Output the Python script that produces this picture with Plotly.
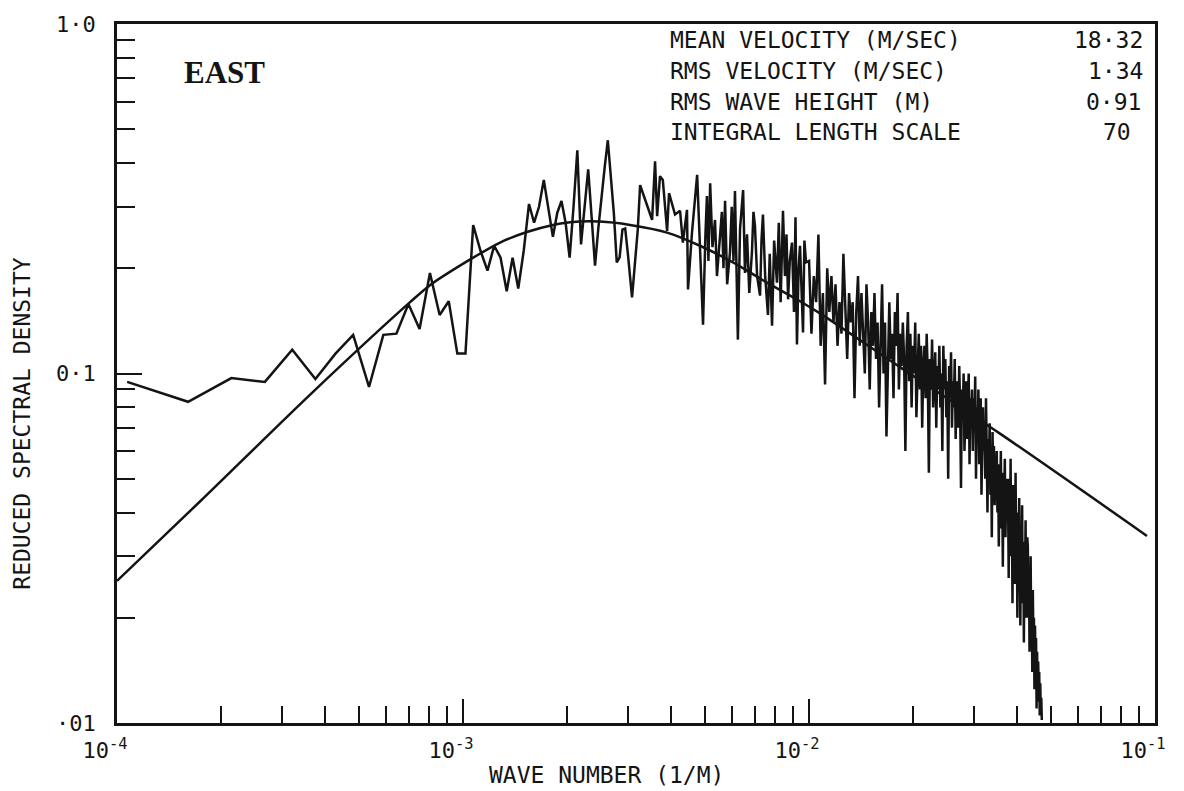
import numpy as np
import plotly.graph_objects as go

# ---------------- data ----------------
DK = 5.35e-5  # wavenumber resolution of the spectrum (1/m)

# harmonics 2..56, every harmonic
LOW_HARMONIC_START = 2
low_density = [
    0.0946, 0.083, 0.097, 0.0946, 0.117, 0.0965, 0.114, 0.129, 0.0915, 0.129,
    0.130, 0.158, 0.134, 0.194, 0.147, 0.161, 0.114, 0.114, 0.266, 0.2245,
    0.197, 0.232, 0.2145, 0.172, 0.2145, 0.175, 0.2245, 0.3055, 0.27, 0.30,
    0.358, 0.30, 0.246, 0.288, 0.3115, 0.27, 0.2145, 0.30, 0.435, 0.234,
    0.30, 0.384, 0.28, 0.2035, 0.26, 0.326, 0.39, 0.465, 0.36, 0.288,
    0.208, 0.215, 0.258, 0.26, 0.22,
]

# 3e-3 .. 1e-2
mid_wavenumber = [
    3.08e-3, 3.20e-3, 3.25e-3, 3.40e-3, 3.52e-3, 3.59e-3, 3.64e-3, 3.71e-3, 3.78e-3, 3.89e-3,
    3.94e-3, 4.10e-3, 4.24e-3, 4.32e-3, 4.44e-3, 4.47e-3, 4.59e-3, 4.75e-3,
    4.94e-3, 5.02e-3, 5.07e-3, 5.12e-3, 5.18e-3, 5.26e-3, 5.35e-3, 5.42e-3, 5.53e-3, 5.60e-3,
    5.66e-3, 5.72e-3, 5.80e-3, 5.91e-3, 5.98e-3, 6.05e-3, 6.11e-3, 6.17e-3, 6.23e-3, 6.32e-3,
    6.45e-3, 6.53e-3, 6.62e-3, 6.72e-3, 6.84e-3, 6.91e-3, 6.98e-3, 7.08e-3, 7.22e-3, 7.29e-3,
    7.36e-3, 7.47e-3, 7.61e-3, 7.70e-3, 7.82e-3, 7.93e-3, 8.08e-3, 8.18e-3, 8.28e-3, 8.41e-3,
    8.52e-3, 8.61e-3, 8.70e-3, 8.80e-3, 8.93e-3, 9.05e-3, 9.14e-3, 9.23e-3, 9.33e-3, 9.42e-3,
    9.52e-3, 9.61e-3, 9.70e-3, 9.80e-3,
]
mid_density = [
    0.165, 0.258, 0.346, 0.304, 0.275, 0.405, 0.282, 0.367, 0.358, 0.256,
    0.328, 0.285, 0.292, 0.237, 0.294, 0.174, 0.253, 0.370,
    0.138, 0.25, 0.322, 0.21, 0.350, 0.23, 0.275, 0.19, 0.241, 0.29,
    0.20, 0.312, 0.18, 0.222, 0.30, 0.21, 0.333, 0.20, 0.125, 0.26,
    0.335, 0.194, 0.25, 0.17, 0.222, 0.29, 0.264, 0.19, 0.167, 0.24,
    0.285, 0.19, 0.147, 0.22, 0.137, 0.24, 0.182, 0.27, 0.16, 0.292,
    0.19, 0.25, 0.163, 0.21, 0.237, 0.15, 0.28, 0.121, 0.20, 0.232,
    0.16, 0.131, 0.24, 0.208,
]

# dense band: every 3rd harmonic from 187 to 880
HIGH_HARMONIC_START = 187
HIGH_HARMONIC_STEP = 3
high_density = [
    # ~1.0e-2 .. 1.3e-2
    0.21, 0.13, 0.19, 0.16, 0.25, 0.12, 0.17, 0.093, 0.20, 0.15, 0.19,
    0.14, 0.18, 0.12, 0.16, 0.13, 0.22, 0.15, 0.11, 0.17, 0.14,
    # ~1.3e-2 .. 1.6e-2
    0.16, 0.085, 0.15, 0.19, 0.12, 0.17, 0.13, 0.10, 0.18, 0.14, 0.09,
    0.15, 0.12, 0.17, 0.11, 0.14, 0.08,
    # ~1.6e-2 .. 1.9e-2
    0.13, 0.18, 0.10, 0.14, 0.066, 0.12, 0.16, 0.11, 0.13, 0.085, 0.15,
    0.12, 0.17, 0.09, 0.13, 0.105, 0.14,
    # ~1.9e-2 .. 2.1e-2
    0.11, 0.06, 0.12, 0.15, 0.095, 0.13, 0.08, 0.12, 0.10, 0.14, 0.075,
    0.11, 0.13, 0.09, 0.12, 0.07, 0.105,
    # ~2.2e-2 .. 2.4e-2
    0.12, 0.085, 0.13, 0.10, 0.052, 0.11, 0.09, 0.125, 0.08, 0.10, 0.115,
    0.07, 0.105, 0.09, 0.12, 0.08,
    # ~2.4e-2 .. 2.7e-2
    0.10, 0.06, 0.12, 0.09, 0.11, 0.075, 0.095, 0.05, 0.105, 0.085, 0.115,
    0.07, 0.095, 0.08, 0.11, 0.065, 0.09,
    # ~2.7e-2 .. 2.9e-2
    0.095, 0.07, 0.105, 0.08, 0.047, 0.09, 0.075, 0.10, 0.06, 0.085, 0.095,
    0.065, 0.08, 0.10, 0.055, 0.085, 0.075,
    # ~3.0e-2 .. 3.2e-2
    0.09, 0.06, 0.085, 0.072, 0.098, 0.05, 0.08, 0.065, 0.09, 0.055, 0.075,
    0.085, 0.045, 0.07, 0.08, 0.06,
    # ~3.2e-2 .. 3.5e-2
    0.07, 0.05, 0.085, 0.06, 0.04, 0.065, 0.055, 0.072, 0.045, 0.06, 0.034,
    0.068, 0.05, 0.062, 0.042, 0.058, 0.052,
    # ~3.5e-2 .. 3.75e-2
    0.06, 0.04, 0.055, 0.032, 0.05, 0.045, 0.06, 0.036, 0.048, 0.028, 0.052,
    0.042, 0.057, 0.034, 0.046, 0.038, 0.05,
    # ~3.75e-2 .. 4.0e-2
    0.045, 0.026, 0.05, 0.035, 0.057, 0.03, 0.042, 0.022, 0.048, 0.036, 0.04,
    0.025, 0.052, 0.032, 0.038, 0.02,
    # ~4.0e-2 .. 4.3e-2
    0.04, 0.024, 0.044, 0.03, 0.019, 0.036, 0.027, 0.042, 0.022, 0.033, 0.017,
    0.03, 0.026, 0.038, 0.02, 0.028, 0.034,
    # ~4.3e-2 .. 4.55e-2
    0.032, 0.02, 0.028, 0.016, 0.025, 0.03, 0.018, 0.022, 0.014, 0.024, 0.017,
    0.02, 0.0125, 0.019, 0.015, 0.0175, 0.011,
    # ~4.55e-2 .. 4.7e-2
    0.016, 0.0115, 0.015, 0.0125, 0.014, 0.0105, 0.013, 0.0108, 0.0118, 0.0102,
]

# fitted model spectrum (smooth curve)
model_wavenumber = [1.0e-4, 1.74e-4, 3.61e-4, 7.03e-4, 8.03e-4, 1.07e-3, 1.28e-3, 1.53e-3,
                    1.82e-3, 2.04e-3, 2.49e-3, 3.04e-3, 3.89e-3, 4.84e-3, 6.03e-3, 7.56e-3,
                    9.42e-3, 1.076e-2, 1.832e-2, 3.565e-2, 9.48e-2]
model_density = [0.0255, 0.0431, 0.0869, 0.160, 0.179, 0.2145, 0.237, 0.254,
                 0.266, 0.271, 0.272, 0.266, 0.253, 0.232, 0.208, 0.182,
                 0.161, 0.1486, 0.1043, 0.0673, 0.0343]

x_tick_vals = [1e-4, 1e-3, 1e-2, 1e-1]
x_tick_text = ["10<sup>-4</sup>", "10<sup>-3</sup>", "10<sup>-2</sup>", "10<sup>-1</sup>"]
y_tick_vals = [0.01, 0.1, 1.0]
y_tick_text = ["·01", "0·1", "1·0"]

stat_labels = ["MEAN VELOCITY (M/SEC)", "RMS VELOCITY (M/SEC)", "RMS WAVE HEIGHT (M)",
               "INTEGRAL LENGTH SCALE"]
stat_values = ["18·32", "1·34", "0·91", "70"]

# ---------------- assemble series ----------------
low_k = (LOW_HARMONIC_START + np.arange(len(low_density))) * DK
high_k = (HIGH_HARMONIC_START + HIGH_HARMONIC_STEP * np.arange(len(high_density))) * DK
n_mid = min(len(mid_wavenumber), len(mid_density))
spec_k = np.concatenate([low_k, np.array(mid_wavenumber[:n_mid]), high_k])
spec_s = np.concatenate([np.array(low_density), np.array(mid_density[:n_mid]),
                         np.array(high_density)])

INK = "#141414"
MONO = "DejaVu Sans Mono"

fig = go.Figure()
fig.add_trace(go.Scatter(x=spec_k, y=spec_s, mode="lines",
                         line=dict(color=INK, width=2.5), showlegend=False, hoverinfo="skip"))
fig.add_trace(go.Scatter(x=model_wavenumber, y=model_density, mode="lines",
                         line=dict(color=INK, width=2.5, shape="spline", smoothing=0.8),
                         showlegend=False, hoverinfo="skip"))

# plot area in pixels
L, R, T, B = 117, 29, 20, 68
W, H = 1184, 791
PW, PH = W - L - R, H - T - B


def px(xp):
    return (xp - L) / PW


def py(yp):
    return (H - B - yp) / PH


x_minor = [m * 10.0 ** e for e in (-4, -3, -2) for m in range(2, 10)]
y_minor = [m * 10.0 ** e for e in (-2, -1) for m in range(2, 10)]

fig.update_xaxes(type="log", range=[-4, -1], showgrid=False, zeroline=False,
                 showline=True, linecolor=INK, linewidth=2.5, mirror=True,
                 ticks="inside", ticklen=24, tickwidth=2, tickcolor=INK,
                 tickmode="array", tickvals=x_tick_vals, ticktext=x_tick_text,
                 tickfont=dict(family=MONO, size=22, color=INK),
                 ticklabelshift=-12, ticklabelstandoff=6,
                 minor=dict(ticks="inside", ticklen=17, tickwidth=2, tickcolor=INK,
                            tickmode="array", tickvals=x_minor, showgrid=False))
fig.update_yaxes(type="log", range=[-2, 0], showgrid=False, zeroline=False,
                 showline=True, linecolor=INK, linewidth=2.5, mirror=True,
                 ticks="inside", ticklen=25, tickwidth=2, tickcolor=INK,
                 tickmode="array", tickvals=y_tick_vals, ticktext=y_tick_text,
                 tickfont=dict(family=MONO, size=22, color=INK),
                 ticklabelstandoff=14,
                 minor=dict(ticks="inside", ticklen=18, tickwidth=2, tickcolor=INK,
                            tickmode="array", tickvals=y_minor, showgrid=False))

annotations = [
    dict(text="<b>EAST</b>", x=px(224), y=py(69), xref="paper", yref="paper",
         showarrow=False, xanchor="center", yanchor="middle",
         font=dict(family="Liberation Serif", size=31, color=INK)),
    dict(text="WAVE NUMBER (1/M)", x=px(606), y=py(775), xref="paper", yref="paper",
         showarrow=False, xanchor="center", yanchor="middle",
         font=dict(family=MONO, size=23, color=INK)),
    dict(text="REDUCED SPECTRAL DENSITY", x=px(22), y=py(422), xref="paper", yref="paper",
         showarrow=False, xanchor="center", yanchor="middle", textangle=-90,
         font=dict(family=MONO, size=23, color=INK)),
]
row_y = [36, 67, 98, 129]
value_x = [1072, 1086, 1084, 1101]
for lab, val, ry, vx in zip(stat_labels, stat_values, row_y, value_x):
    annotations.append(dict(text=lab, x=px(668), y=py(ry), xref="paper", yref="paper",
                            showarrow=False, xanchor="left", yanchor="middle",
                            font=dict(family=MONO, size=23, color=INK)))
    annotations.append(dict(text=val, x=px(vx), y=py(ry), xref="paper", yref="paper",
                            showarrow=False, xanchor="left", yanchor="middle",
                            font=dict(family=MONO, size=23, color=INK)))

fig.update_layout(width=W, height=H, margin=dict(l=L, r=R, t=T, b=B),
                  paper_bgcolor="white", plot_bgcolor="white",
                  annotations=annotations, showlegend=False)

fig.write_html("out.html",
               config={"displayModeBar": False},
               post_script="document.body.style.margin='0px';"
                           "document.body.style.overflow='hidden';")
